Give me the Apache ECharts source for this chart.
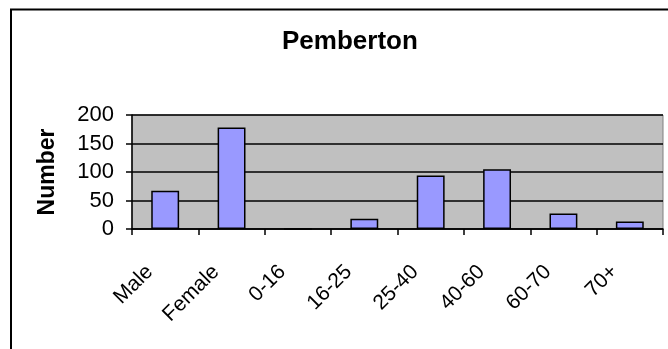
<!DOCTYPE html>
<html>
<head>
<meta charset="utf-8">
<script src="https://cdn.jsdelivr.net/npm/echarts@6/dist/echarts.min.js"></script>
<style>
  html, body { margin: 0; padding: 0; background: #fff; }
  #main { width: 668px; height: 349px; }
</style>
</head>
<body>
<div id="main"></div>
<script>
  // categories and counts
  var categories = ['Male', 'Female', '0-16', '16-25', '25-40', '40-60', '60-70', '70+'];
  var counts = [67, 178, 0, 18, 94, 105, 27, 13];
  var yTicks = [0, 50, 100, 150, 200];

  var font = 'Arial';
  var chart = echarts.init(document.getElementById('main'));

  chart.setOption({
    animation: false,
    backgroundColor: '#fff',
    title: {
      text: 'Pemberton',
      left: 277,
      top: 24,
      textStyle: { fontFamily: font, fontSize: 26, fontWeight: 'bold', color: '#000' }
    },
    // outer chart frame
    graphic: [{
      type: 'rect',
      shape: { x: 11, y: 9.5, width: 720, height: 420 },
      style: { fill: 'none', stroke: '#000', lineWidth: 2 },
      silent: true
    }],
    grid: {
      left: 132, right: 5, top: 115, bottom: 120,
      show: true,
      backgroundColor: '#c0c0c0',
      borderColor: '#808080',
      borderWidth: 1
    },
    xAxis: {
      type: 'category',
      data: categories,
      boundaryGap: true,
      axisLine: { lineStyle: { color: '#000', width: 1.5 } },
      axisTick: { show: true, length: 6, lineStyle: { color: '#000', width: 1.5 } },
      axisLabel: {
        rotate: 45,
        interval: 0,
        margin: 24,
        padding: [0, 22, 0, 0],
        fontFamily: font,
        fontSize: 21,
        color: '#000'
      }
    },
    yAxis: {
      type: 'value',
      min: yTicks[0],
      max: yTicks[yTicks.length - 1],
      interval: 50,
      name: 'Number',
      nameLocation: 'middle',
      nameRotate: 90,
      nameGap: 73,
      nameTextStyle: { fontFamily: font, fontSize: 23, fontWeight: 'bold', color: '#000' },
      axisLine: { show: true, lineStyle: { color: '#000', width: 1.5 } },
      axisTick: { show: true, length: 6, lineStyle: { color: '#000', width: 1.5 } },
      axisLabel: { margin: 18, fontFamily: font, fontSize: 22, color: '#000' },
      splitLine: { show: true, lineStyle: { color: '#000', width: 1.5 } }
    },
    series: [{
      type: 'bar',
      data: counts,
      barWidth: '42%',
      itemStyle: { color: '#9999ff', borderColor: '#000', borderWidth: 1.5 }
    }]
  });
</script>
</body>
</html>
